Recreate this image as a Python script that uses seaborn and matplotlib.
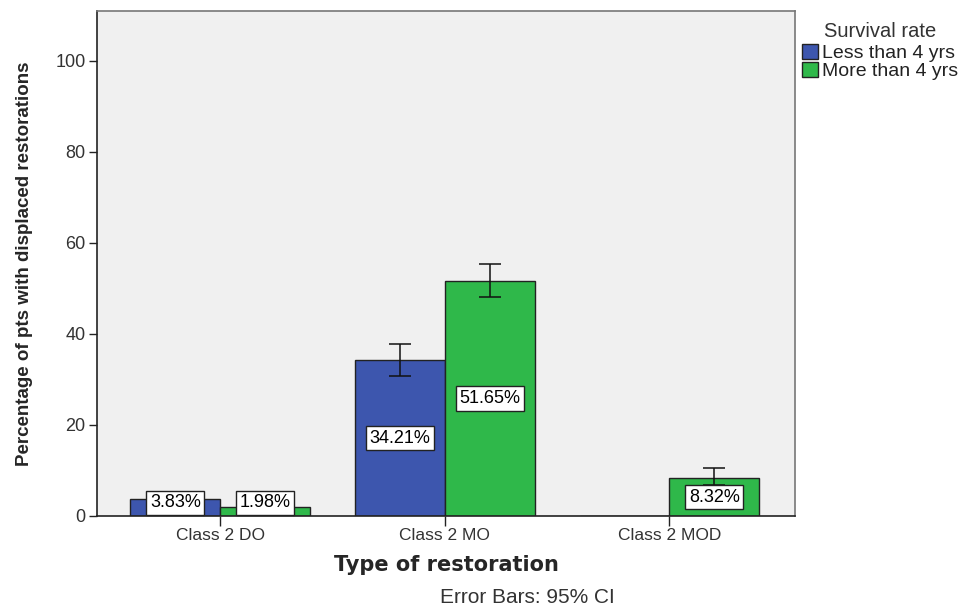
import matplotlib
matplotlib.use("Agg")
import matplotlib.pyplot as plt
import seaborn as sns
import pandas as pd

# valores
categorias = ["Class 2 DO", "Class 2 MO", "Class 2 MOD"]
grupos = ["Less than 4 yrs", "More than 4 yrs"]
menos_4 = [3.83, 34.21, 0.0]
mais_4 = [1.98, 51.65, 8.32]
ic_menos_baixo = [2.4, 30.8, 0.0]
ic_menos_alto = [5.3, 37.7, 0.0]
ic_mais_baixo = [1.3, 48.2, 6.8]
ic_mais_alto = [2.7, 55.3, 10.6]
rotulos_menos = ["3.83%", "34.21%", None]
rotulos_mais = ["1.98%", "51.65%", "8.32%"]

df = pd.DataFrame({
    "Tipo": categorias * 2,
    "Grupo": [grupos[0]] * 3 + [grupos[1]] * 3,
    "Valor": menos_4 + mais_4,
})

sns.set_style("white")
plt.rcParams["font.family"] = ["Liberation Sans", "DejaVu Sans"]

fig = plt.figure(figsize=(9.58, 6.07), dpi=100)
ax = fig.add_axes([0.101, 0.15, 0.729, 0.832])
ax.set_facecolor("#f0f0f0")

cores = ["#3d56ae", "#2fb84a"]
sns.barplot(data=df, x="Tipo", y="Valor", hue="Grupo", order=categorias,
            hue_order=grupos, palette=cores, errorbar=None, width=0.8,
            edgecolor="#222222", linewidth=1.0, saturation=1, ax=ax)

# barras de erro e rotulos a partir das barras desenhadas
conjuntos = [
    (menos_4, ic_menos_baixo, ic_menos_alto, rotulos_menos),
    (mais_4, ic_mais_baixo, ic_mais_alto, rotulos_mais),
]
for container, (vals, lo, hi, rots) in zip(ax.containers, conjuntos):
    for barra, v, a, b, r in zip(container, vals, lo, hi, rots):
        if v <= 0:
            continue
        xc = barra.get_x() + barra.get_width() / 2
        ax.errorbar(xc, v, yerr=[[v - a], [b - v]], fmt="none",
                    ecolor="#111111", elinewidth=1.1, capsize=8, capthick=1.1)
        if r:
            ax.text(xc, max(v / 2, 2.9), r, ha="center", va="center",
                    fontsize=13, color="black",
                    bbox=dict(boxstyle="square,pad=0.2", fc="white", ec="#222222", lw=1))

ax.set_ylim(0, 111)
ax.set_xlim(-0.55, 2.56)
ax.set_yticks([0, 20, 40, 60, 80, 100])
ax.tick_params(axis="y", direction="out", length=6, width=1, colors="#222222",
               labelsize=13, labelcolor="#333333", left=True, pad=2)
ax.tick_params(axis="x", direction="out", length=7, width=1, colors="#222222",
               labelsize=12.5, labelcolor="#333333", bottom=True, pad=2)

for lado in ["left", "bottom"]:
    ax.spines[lado].set_color("#222222")
    ax.spines[lado].set_linewidth(1.2)
for lado in ["top", "right"]:
    ax.spines[lado].set_color("#777777")
    ax.spines[lado].set_linewidth(1.2)

ax.set_xlabel("Type of restoration", fontsize=15, fontweight="bold",
              family=["DejaVu Sans"], labelpad=8)
ax.set_ylabel("Percentage of pts with displaced restorations", fontsize=13.5,
              fontweight="bold", labelpad=16)

leg = ax.legend(title="Survival rate", loc="upper left", bbox_to_anchor=(1.002, 0.989),
                frameon=False, fontsize=14, title_fontsize=14.5,
                handlelength=0.8, handleheight=0.8, handletextpad=0.2,
                borderaxespad=0.0, labelspacing=0.0, borderpad=0.3)
leg._legend_box.align = "center"
leg._legend_box.sep = 2
for t in leg.get_texts():
    t.set_color("#222222")
leg.get_title().set_color("#333333")

fig.text(0.55, 0.0, "Error Bars: 95% CI", ha="center", va="bottom",
         fontsize=15, color="#333333")

fig.savefig("out.png", dpi=100)
